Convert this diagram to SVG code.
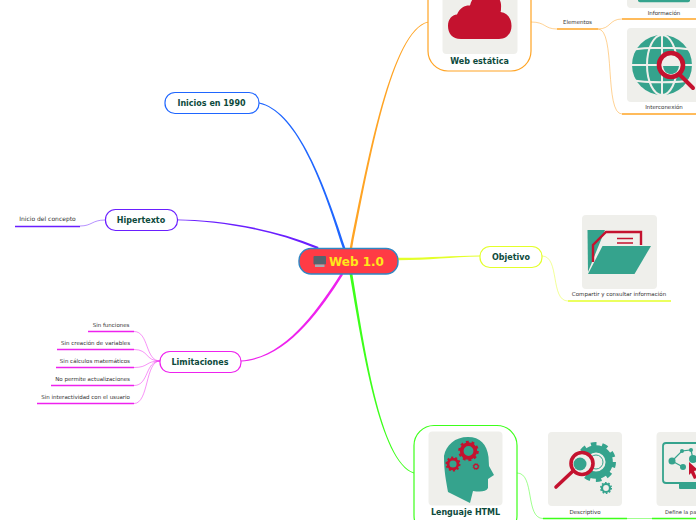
<svg xmlns="http://www.w3.org/2000/svg" width="696" height="520" viewBox="0 0 696 520">
<style>
text{font-family:"DejaVu Sans","Liberation Sans",sans-serif}
.t{font-size:8px;font-weight:700;fill:#0d4a3c;text-anchor:middle}
.s{font-size:5.5px;fill:#333;text-anchor:middle}
.e{font-size:5.5px;fill:#333;text-anchor:end}
.n{fill:#fff;stroke-width:1.2}
.bg{fill:#efefeb}
.teal{fill:#35a38d}
.red{fill:#c4122f}
.c{fill:none;stroke-width:.9;opacity:.55}
.u{fill:none;stroke-width:1.6}
.or{stroke:#ffa424}.ma{stroke:#ee22ee}.gr{stroke:#3dff1a}.ye{stroke:#e4ff2a}.pu{stroke:#6a1fff}.bl{stroke:#1f66ff}
</style>
<defs>
<g id="gear"><circle r="8" fill="none" stroke-width="4.4"/><circle r="10.6" fill="none" stroke-width="3" stroke-dasharray="3.3 3.36"/></g>
</defs>
<g id="connectors">
<path d="M259 102.6C295 110 322 175 345.3 248L342.7 248C321 176 294 111 259 103.4Z" fill="#1f66ff"/>
<path d="M352.2 248C369.5 160 392.5 30.500 428 22.400L428 21.700C391.500 29.500 367.500 160 349.800 248Z" fill="#ffa424"/>
<path d="M177 219.4C215 219.5 270 227 318.6 247L317.6 249C270 229 215 220.5 177 220.2Z" fill="#6a1fff"/>
<path d="M343.2 274.6C319 313 286 359 241 361.400L241 360.600C284.500 357.500 317 311 340.800 273.400Z" fill="#ee22ee"/>
<path d="M352.4 274C364 345 380.500 461.500 414 472.600L414 473.400C379.500 462.500 362 345 349.600 274Z" fill="#3dff1a"/>
<path d="M398 257.8C430 258 450 255.800 480 255.600L480 256.400C450 257 430 260 398 260.200Z" fill="#e4ff2a"/>
<path class="c or" d="M531 22C546 22 544 29 557 29"/>
<path class="u or" d="M557 29H598"/>
<path class="c or" d="M598 29C611 29 609 19 622 19"/>
<path class="u or" d="M622 19H696"/>
<path class="c or" d="M598 29C616 29 604 114 622 114"/>
<path class="u or" d="M622 114H696"/>
<path class="c ye" d="M542 256C560 256 550 301 568 301"/>
<path class="u ye" d="M568 301H671"/>
<path class="c gr" d="M517 473C535 473 525 518.500 543 518.500"/>
<path class="u gr" d="M543 518.500H627"/>
<path class="c gr" d="M627 518.500H652"/>
<path class="u gr" d="M652 518.500H696"/>
<path class="c pu" d="M105 220C92 220 92 226 80 226"/>
<path class="u pu" d="M15 226.500H80"/>
<path class="c ma" d="M160 361C145 361 149 331.500 134 331.500"/>
<path class="c ma" d="M160 361C145 361 149 349.500 134 349.500"/>
<path class="c ma" d="M160 361C145 361 149 367.500 134 367.500"/>
<path class="c ma" d="M160 361C145 361 149 385.500 134 385.500"/>
<path class="c ma" d="M160 361C145 361 149 403.500 134 403.500"/>
<path class="u ma" d="M88 331.500H134M57 349.500H134M56 367.500H134M51 385.500H134M37 403.500H134"/>
</g>
<g id="node-web10">
<rect x="299" y="248.500" width="99" height="25.500" rx="12" fill="#ff3b45" stroke="#2f87c4" stroke-width="1.4"/>
<rect x="313.500" y="256" width="12.500" height="8.500" rx="1" fill="#55646e"/>
<rect x="315" y="264.500" width="9.500" height="2.500" fill="#a3adb3"/>
<text x="356.500" y="266" font-size="12" font-weight="700" fill="#ffe81a" text-anchor="middle">Web 1.0</text>
</g>
<g id="node-inicios">
<rect class="n bl" x="165" y="92.500" width="94" height="21" rx="10"/>
<text class="t" x="211.500" y="106">Inicios en 1990</text>
</g>
<g id="node-hipertexto">
<rect class="n pu" x="105.500" y="209.500" width="72" height="21" rx="10"/>
<text class="t" x="141" y="223">Hipertexto</text>
</g>
<g id="node-inicio-concepto"><text x="47.500" y="221" font-size="6" fill="#333" text-anchor="middle">Inicio del concepto</text></g>
<g id="node-limitaciones">
<rect class="n ma" x="160" y="351.500" width="81" height="21" rx="10"/>
<text class="t" x="200" y="365">Limitaciones</text>
</g>
<g id="node-lim1"><text class="e" x="129.500" y="327">Sin funciones</text></g>
<g id="node-lim2"><text class="e" x="130" y="345">Sin creación de variables</text></g>
<g id="node-lim3"><text class="e" x="130" y="363">Sin cálculos matemáticos</text></g>
<g id="node-lim4"><text class="e" x="130" y="381">No permite actualizaciones</text></g>
<g id="node-lim5"><text class="e" x="130" y="399">Sin interactividad con el usuario</text></g>
<g id="node-objetivo">
<rect class="n ye" x="480" y="246.500" width="62" height="21" rx="10"/>
<text class="t" x="511" y="260">Objetivo</text>
</g>
<g id="node-compartir">
<rect class="bg" x="582" y="215" width="75" height="74" rx="4"/>
<path class="teal" d="M587.500 230H605L588 272Z"/>
<path d="M593 262V245L606 232H641V245" fill="none" stroke="#c4122f" stroke-width="2.400"/>
<path d="M617 238.500H633M617 243H633" stroke="#c4122f" stroke-width="1.500"/>
<path class="teal" d="M602.500 246H651L634.500 274H588Z"/>
<text class="s" x="619" y="296">Compartir y consultar información</text>
</g>
<g id="node-web-estatica">
<rect class="n or" x="428" y="-40" width="103" height="111" rx="20"/>
<rect class="bg" x="442.500" y="-25" width="75" height="79" rx="4"/>
<path class="red" d="M461 39C452 39 448 33 448 26C448 19 452 15 457 14.500C460 7 466 5 470 5.500C472 -3 478 -8 486 -8C495 -8 502 -2 501 8C501 10 501 11 500.500 12C508 13 511.500 19 511.500 26C511.500 33 507 39 499 39Z"/>
<text class="t" x="479.500" y="64">Web estática</text>
</g>
<g id="node-elementos"><text class="s" x="577.500" y="24">Elementos</text></g>
<g id="node-informacion">
<rect class="bg" x="627" y="-60" width="80" height="68" rx="4"/>
<rect class="teal" x="638" y="-8" width="52" height="10.300" rx="2"/>
<text class="s" x="664" y="15">Información</text>
</g>
<g id="node-interconexion">
<rect class="bg" x="627" y="28" width="80" height="74" rx="4"/>
<circle class="teal" cx="662" cy="65" r="30"/>
<g fill="none" stroke="#efefeb" stroke-width="2">
<ellipse cx="662" cy="65" rx="15" ry="30"/>
<path d="M662 35V95M632 50C645 47 679 47 692 50M631 65H693M632 80C645 83 679 83 692 80"/>
</g>
<circle cx="671" cy="65" r="12" fill="#efefeb" stroke="#c4122f" stroke-width="4.600"/>
<path class="teal" d="M663 66H679C678 72 675 74 671 74C667 74 664 72 663 66Z"/>
<path d="M680 75L693 88" stroke="#c4122f" stroke-width="4" stroke-linecap="round"/>
<text class="s" x="664" y="109">Interconexión</text>
</g>
<g id="node-lenguaje">
<rect class="n gr" x="414" y="425.500" width="103" height="110" rx="20"/>
<rect class="bg" x="428.500" y="431.500" width="74" height="74" rx="4"/>
<path class="teal" d="M448 492C446 480 444 472 444 456C446 445 455 437 468 437C480 437 487 444 488.500 457L489 466L494 475L488 479L488 488C486 492 480 492 473 491L470 503Z"/>
<use href="#gear" transform="translate(468.500 451) scale(.85)" stroke="#c4122f"/>
<use href="#gear" transform="translate(453 464) scale(.62)" stroke="#c4122f"/>
<use href="#gear" transform="translate(476 466.500) scale(.28)" stroke="#c4122f"/>
<text class="t" x="465.500" y="515">Lenguaje HTML</text>
</g>
<g id="node-descriptivo">
<rect class="bg" x="548" y="432" width="74" height="74" rx="4"/>
<use href="#gear" transform="translate(596 462) scale(1.650)" stroke="#35a38d"/>
<circle cx="596" cy="462" r="7" fill="none" stroke="#35a38d" stroke-width="1"/>
<use href="#gear" transform="translate(606 488) scale(.5)" stroke="#35a38d"/>
<circle cx="582" cy="463.500" r="11" fill="#efefeb" stroke="#c4122f" stroke-width="3.600"/>
<circle class="teal" cx="580" cy="464" r="6.500"/>
<path d="M573 471L556 487" stroke="#c4122f" stroke-width="3.600" stroke-linecap="round"/>
<text class="s" x="585" y="513.500">Descriptivo</text>
</g>
<g id="node-define">
<rect class="bg" x="656.500" y="432" width="60" height="74" rx="4"/>
<rect x="663" y="443" width="60" height="40" rx="3" fill="none" stroke="#35a38d" stroke-width="1.800"/>
<rect class="teal" x="679" y="483" width="30" height="6" rx="1"/>
<path d="M672 461L682 451L691 450L693 459M672 461L683 467" fill="none" stroke="#35a38d" stroke-width="1.200"/>
<circle class="teal" cx="672" cy="461" r="3.500"/>
<circle class="teal" cx="683" cy="467" r="3"/>
<circle class="teal" cx="682" cy="451" r="2"/>
<circle class="teal" cx="691" cy="450" r="2"/>
<circle class="teal" cx="693" cy="459" r="4"/>
<path class="red" d="M689 462L698 470L694 471L697 478L694 479L691 473L689 475Z"/>
<text x="665" y="513.500" font-size="5.200" fill="#333">Define la pa</text>
</g>
</svg>
